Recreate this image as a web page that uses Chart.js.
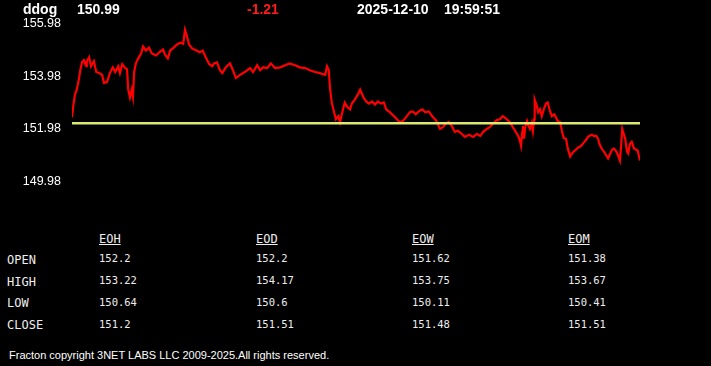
<!DOCTYPE html>
<html>
<head>
<meta charset="utf-8">
<script src="https://cdn.jsdelivr.net/npm/chart.js@4.4.1/dist/chart.umd.min.js"></script>
<style>
  html, body { margin: 0; padding: 0; background: #000; }
  #wrap { position: relative; width: 711px; height: 366px; background: #000; overflow: hidden; }
  #myChart { position: absolute; left: 0; top: 0; }
  .t { position: absolute; white-space: pre; color: #fff; }
  .hd { font: bold 14px "Liberation Sans", Arial, sans-serif; line-height: 16px; top: 1px; }
  .mono { font: 10.5px "DejaVu Sans Mono", monospace; line-height: 12px; color: #eee; }
  .lbl { font: 12px "DejaVu Sans Mono", monospace; line-height: 14px; color: #eee; }
  .ul { text-decoration: underline; }
  .foot { font: 11px "Liberation Sans", Arial, sans-serif; line-height: 13px; left: 9px; top: 349px; }
</style>
</head>
<body>
<div id="wrap">
  <canvas id="myChart" width="711" height="200"></canvas>
</div>
<script>
// header
var symbol = "ddog";
var lastPrice = "150.99";
var change = "-1.21";
var quoteDate = "2025-12-10";
var quoteTime = "19:59:51";

// intraday trace: minutes from start of session, price
var minutes = [0, 2, 5, 8, 12, 14, 17, 20, 24, 25, 29, 32, 37, 41, 46, 51, 54, 59, 64, 69,
  73, 78, 81, 85, 90, 93, 95, 98, 101, 103, 105, 108, 112, 117, 120, 125, 130, 135, 142, 149,
  154, 157, 162, 166, 172, 177, 183, 188, 191, 194, 198, 203, 210, 216, 221, 226, 232, 237, 240, 245,
  250, 254, 260, 267, 272, 277, 284, 292, 301, 306, 313, 318, 323, 330, 336, 343, 352, 360, 368, 377,
  385, 394, 402, 411, 419, 428, 431, 434, 436, 439, 443, 446, 450, 453, 456, 461, 466, 470, 473, 478,
  483, 487, 492, 497, 502, 507, 512, 517, 522, 527, 531, 537, 546, 554, 559, 566, 571, 576, 581, 586,
  592, 597, 603, 610, 615, 622, 627, 632, 637, 642, 647, 652, 659, 664, 671, 678, 684, 690, 695, 701,
  706, 711, 718, 723, 728, 733, 740, 745, 749, 754, 757, 759, 761, 762, 764, 766, 769, 771, 774, 777,
  779, 781, 782, 786, 788, 791, 794, 798, 801, 804, 808, 811, 815, 818, 821, 825, 828, 831, 835, 838,
  842, 845, 848, 852, 855, 859, 862, 865, 869, 872, 875, 879, 882, 886, 889, 892, 896, 899, 902, 906,
  909, 913, 916, 919, 923, 926, 928, 930, 933, 935, 938, 940, 943, 946, 950, 953, 956, 960];
var prices = [152.43, 152.84, 153.29, 153.48, 153.92, 154.22, 154.52, 154.60, 154.37, 154.56, 154.71, 154.37, 154.56, 154.15, 154.11, 154.04, 153.74, 153.77, 154.11, 154.33,
  154.15, 154.37, 154.11, 154.45, 154.30, 154.26, 153.48, 153.18, 153.48, 153.21, 154.15, 154.48, 154.67, 154.86, 155.12, 154.97, 155.08, 154.86, 154.78, 154.93,
  155.01, 154.82, 154.67, 154.97, 155.08, 155.19, 155.27, 155.23, 155.76, 155.53, 155.19, 155.05, 154.97, 154.90, 154.97, 154.71, 154.45, 154.37, 154.48, 154.52,
  154.22, 154.11, 154.33, 154.48, 154.22, 153.92, 154.04, 154.15, 154.30, 154.15, 154.41, 154.22, 154.33, 154.30, 154.48, 154.30, 154.33, 154.41, 154.48, 154.41,
  154.33, 154.30, 154.22, 154.15, 154.11, 154.04, 154.37, 154.22, 153.55, 152.99, 152.62, 152.35, 152.47, 152.24, 152.54, 152.99, 152.80, 152.73, 152.95, 153.10,
  153.29, 153.48, 153.21, 153.03, 152.95, 153.03, 152.91, 153.03, 152.95, 152.99, 152.73, 152.62, 152.43, 152.24, 152.28, 152.47, 152.62, 152.65, 152.54, 152.65,
  152.73, 152.62, 152.65, 152.43, 152.32, 151.98, 152.05, 152.20, 152.24, 152.09, 151.87, 151.91, 151.79, 151.68, 151.76, 151.68, 151.79, 151.72, 151.87, 151.98,
  152.05, 152.17, 152.32, 152.35, 152.47, 152.39, 152.24, 152.05, 151.91, 151.72, 151.53, 151.34, 151.87, 152.09, 151.61, 152.05, 152.28, 152.13, 151.98, 152.20,
  151.91, 152.35, 153.10, 152.84, 152.62, 152.73, 152.47, 152.77, 152.95, 152.99, 152.65, 152.47, 152.54, 152.43, 152.28, 152.24, 151.91, 151.64, 151.61, 151.23,
  150.93, 151.05, 151.12, 151.20, 151.27, 151.31, 151.38, 151.46, 151.57, 151.68, 151.72, 151.76, 151.72, 151.72, 151.61, 151.38, 151.20, 151.12, 151.01, 150.86,
  151.01, 151.20, 151.23, 151.16, 150.97, 150.78, 151.31, 151.98, 151.76, 151.61, 151.12, 151.05, 151.42, 151.49, 151.23, 151.20, 151.16, 150.78];
var openPrice = 152.2;
var yTicks = [149.98, 151.98, 153.98, 155.98];

// summary table
var rowLabels = ["OPEN", "HIGH", "LOW", "CLOSE"];
var colLabels = ["EOH", "EOD", "EOW", "EOM"];
var eoh = ["152.2", "153.22", "150.64", "151.2"];
var eod = ["152.2", "154.17", "150.6", "151.51"];
var eow = ["151.62", "153.75", "150.11", "151.48"];
var eom = ["151.38", "153.67", "150.41", "151.51"];

var footer = "Fracton copyright 3NET LABS LLC 2009-2025.All rights reserved.";

var wrap = document.getElementById("wrap");

function addText(txt, cls, left, top, color) {
  var d = document.createElement("div");
  d.className = "t " + cls;
  d.textContent = txt;
  d.style.left = left + "px";
  if (top != null) d.style.top = top + "px";
  if (color) d.style.color = color;
  wrap.appendChild(d);
}

addText(symbol, "hd", 23);
addText(lastPrice, "hd", 77);
addText(change, "hd", 247, null, "#ff1c1c");
addText(quoteDate, "hd", 357);
addText(quoteTime, "hd", 444);

var colX = [99, 256, 412, 568];
var cols = [eoh, eod, eow, eom];
for (var c = 0; c < colLabels.length; c++) {
  addText(colLabels[c], "lbl ul", colX[c], 231.5);
}
for (var r = 0; r < rowLabels.length; r++) {
  addText(rowLabels[r], "lbl", 7, 252.8 + r * 21.7);
  for (var c = 0; c < cols.length; c++) {
    addText(cols[c][r], "mono", colX[c], 252 + r * 22);
  }
}
addText(footer, "foot", 9, null);

var lineData = minutes.map(function (m, i) { return { x: m, y: prices[i] }; });
var openData = [{ x: minutes[0], y: openPrice }, { x: minutes[minutes.length - 1], y: openPrice }];

var config = {
  type: "line",
  data: {
    datasets: [
      {
        data: openData,
        borderColor: "#dce96e",
        borderWidth: 2.5,
        pointRadius: 0,
        tension: 0,
      },
      {
        data: lineData,
        borderColor: "#ff0000",
        borderWidth: 2.2,
        pointRadius: 0,
        tension: 0,
      },
    ],
  },
  options: {
    responsive: false,
    animation: false,
    events: [],
    layout: { padding: { top: 24, bottom: 16, left: 0, right: 71 } },
    plugins: { legend: { display: false }, tooltip: { enabled: false } },
    scales: {
      x: {
        type: "linear",
        display: false,
        min: 0,
        max: 960,
      },
      y: {
        min: yTicks[0],
        max: yTicks[yTicks.length - 1],
        grid: { display: false, drawTicks: false },
        border: { display: false },
        afterBuildTicks: function (axis) {
          axis.ticks = yTicks.map(function (v) { return { value: v }; });
        },
        afterFit: function (axis) { axis.width = 72; },
        ticks: {
          color: "#fff",
          padding: 11,
          font: { family: "'Liberation Sans', Arial, sans-serif", size: 12.5 },
          callback: function (v) { return v.toFixed(2); },
        },
      },
    },
  },
};

var myChart = new Chart(document.getElementById("myChart"), config);
</script>
</body>
</html>
